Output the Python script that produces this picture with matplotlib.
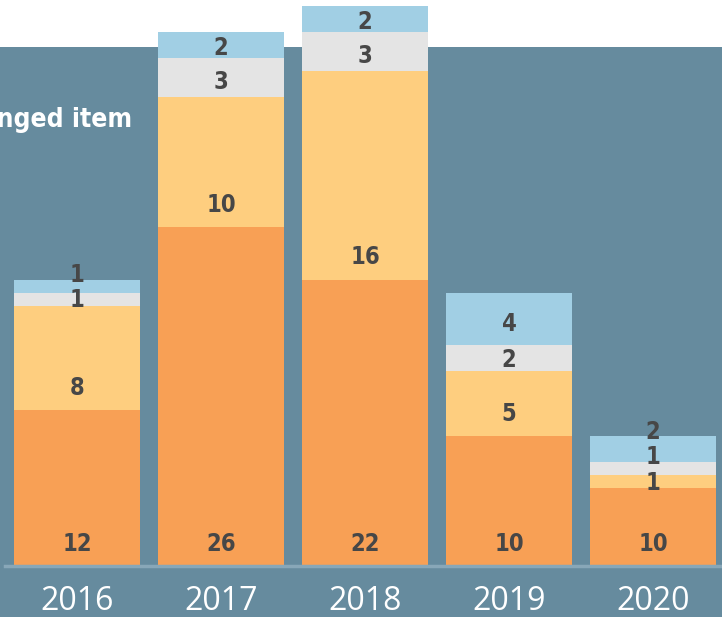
import numpy as np
import matplotlib.pyplot as plt
from matplotlib.patches import Rectangle

years = ["2016", "2017", "2018", "2019", "2020"]
# bar heights as drawn; the 2020 orange bar is drawn shorter than its label says
orange = [12, 26, 22, 10, 6]
orange_labels = ["12", "26", "22", "10", "10"]
yellow = [8, 10, 16, 5, 1]
gray = [1, 3, 3, 2, 1]
blue = [1, 2, 2, 4, 2]

series = [orange, yellow, gray, blue]
colors = ["#f8a055", "#fece7f", "#e4e4e4", "#a1cfe4"]

fig = plt.figure(figsize=(7.22, 6.17), dpi=100)
fig.patch.set_facecolor("white")

ax = fig.add_axes([0, 0, 1, 1])
ax.set_facecolor("none")
ax.set_xlim(-0.535, 4.479)
ax.set_ylim(-3.92, 43.47)
ax.axis("off")
# steel blue panel behind the chart
ax.add_patch(Rectangle((0, 0), 1, 0.924, transform=ax.transAxes,
                       facecolor="#668b9e", edgecolor="none", zorder=0))

x = np.arange(len(years))
bottom = np.zeros(len(years))
last_label = np.full(len(years), -10.0)
for i, (vals, col) in enumerate(zip(series, colors)):
    vals = np.array(vals, dtype=float)
    ax.bar(x, vals, width=0.875, bottom=bottom, color=col, zorder=2)
    for j, (xi, b, v) in enumerate(zip(x, bottom, vals)):
        y = b + min(v * 0.4, 1.7)
        y = max(y, last_label[j] + 1.95)  # keep labels from piling up
        last_label[j] = y
        txt = orange_labels[j] if i == 0 else f"{int(v)}"
        ax.text(xi, y, txt, ha="center", va="center",
                fontsize=17, fontweight="bold", fontstretch="condensed",
                color="#474747", family="DejaVu Sans", zorder=3)
    bottom += vals

ax.axhline(0, xmin=5 / 722, xmax=1, color="#88a7b8", lw=2.5, zorder=3)

for xi, yr in zip(x, years):
    ax.text(xi, -2.75, yr, ha="center", va="center", fontsize=23,
            color="white", family=["Open Sans", "DejaVu Sans"])

ax.text(132 / 722, 1 - 120 / 617, "Challenged item", ha="right", va="center",
        fontsize=19, fontweight="bold", fontstretch="condensed", color="white",
        family="DejaVu Sans", transform=ax.transAxes, zorder=3)

fig.savefig("out.png", dpi=100)
